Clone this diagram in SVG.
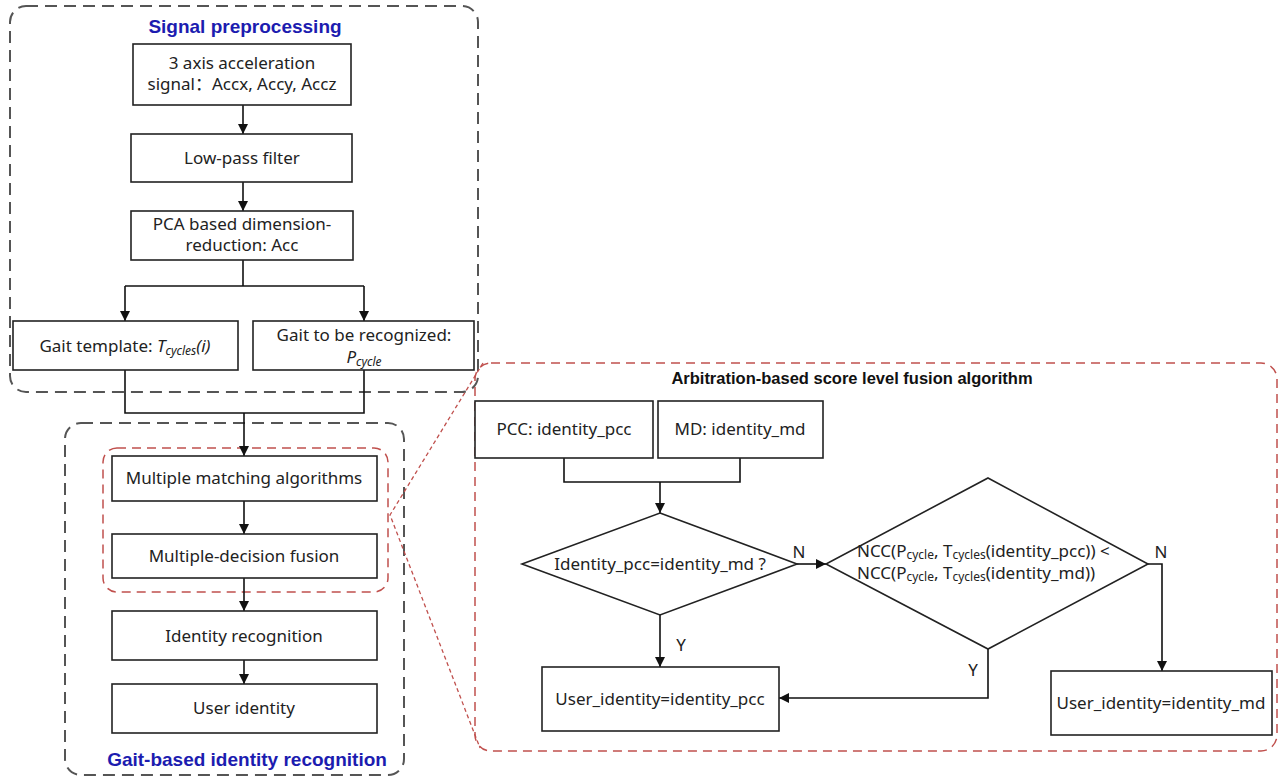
<svg xmlns="http://www.w3.org/2000/svg" width="1279" height="778" viewBox="0 0 1279 778">
<style>
.bg{fill:#fff}
.box{fill:#fff;stroke:#222;stroke-width:1.6}
.grp{fill:none;stroke:#555;stroke-width:2;stroke-dasharray:12 7}
.red{fill:none;stroke:#c0504d;stroke-width:1.5;stroke-dasharray:9 6}
.zoom{fill:none;stroke:#c0504d;stroke-width:1.3;stroke-dasharray:4 3}
.ln{fill:none;stroke:#111;stroke-width:1.6}
.t{font-family:"Noto Sans","Open Sans","Noto Sans CJK SC",sans-serif;font-size:17px;fill:#222;text-anchor:middle}
.ts{font-family:"Noto Sans","Open Sans",sans-serif;font-size:17px;fill:#222;text-anchor:start}
.ttl{font-family:"Liberation Sans",Arial,sans-serif;font-weight:bold;font-size:19px;fill:#1c1cb0;text-anchor:middle}
.ttl2{font-family:"Liberation Sans",Arial,sans-serif;font-weight:bold;font-size:16.5px;fill:#111;text-anchor:middle}
.sub{font-size:12px}
</style>
<defs>
<marker id="ar" viewBox="0 0 10 10" refX="10" refY="5" markerWidth="10" markerHeight="12" markerUnits="userSpaceOnUse" orient="auto">
<path d="M0,0 L10,5 L0,10 z" fill="#111"/>
</marker>
</defs>
<rect class="bg" x="0" y="0" width="1279" height="778"/>

<g id="group-signal">
<rect class="grp" x="10" y="6" width="468" height="386" rx="16"/>
<text class="ttl" x="245" y="33">Signal preprocessing</text>
</g>
<g id="group-gait">
<rect class="grp" x="65" y="423" width="339" height="352" rx="16"/>
<text class="ttl" x="247" y="766">Gait-based identity recognition</text>
</g>
<g id="group-fusion-highlight">
<rect class="red" x="103" y="448" width="285" height="144" rx="14"/>
</g>
<g id="group-arbitration">
<rect class="red" x="475" y="363" width="802" height="388" rx="16"/>
<text class="ttl2" x="852" y="384">Arbitration-based score level fusion algorithm</text>
</g>

<g id="connectors">
<line class="ln" x1="243" y1="105" x2="243" y2="134" marker-end="url(#ar)"/>
<line class="ln" x1="243" y1="182" x2="243" y2="211" marker-end="url(#ar)"/>
<polyline class="ln" points="243,260 243,286"/>
<polyline class="ln" points="125,286 364,286"/>
<line class="ln" x1="125" y1="286" x2="125" y2="321" marker-end="url(#ar)"/>
<line class="ln" x1="364" y1="286" x2="364" y2="321" marker-end="url(#ar)"/>
<polyline class="ln" points="125,370 125,413 364,413 364,370"/>
<line class="ln" x1="244" y1="413" x2="244" y2="456" marker-end="url(#ar)"/>
<line class="ln" x1="244" y1="501" x2="244" y2="534" marker-end="url(#ar)"/>
<line class="ln" x1="244" y1="578" x2="244" y2="611" marker-end="url(#ar)"/>
<line class="ln" x1="244" y1="660" x2="244" y2="684" marker-end="url(#ar)"/>
<polyline class="ln" points="564,458 564,482 740,482 740,458"/>
<line class="ln" x1="660" y1="482" x2="660" y2="513" marker-end="url(#ar)"/>
<line class="ln" x1="797" y1="564" x2="826" y2="564" marker-end="url(#ar)"/>
<line class="ln" x1="660" y1="615" x2="660" y2="667" marker-end="url(#ar)"/>
<polyline class="ln" points="988,649 988,698 779,698" marker-end="url(#ar)"/>
<polyline class="ln" points="1148,564 1162,564 1162,671" marker-end="url(#ar)"/>
<text class="t" x="799" y="558">N</text>
<text class="t" x="681" y="651">Y</text>
<text class="t" x="1161" y="558">N</text>
<text class="t" x="973" y="676">Y</text>
<polyline class="zoom" points="483,363 390,515 480,748"/>
</g>

<g id="n-acc">
<rect class="box" x="133" y="44" width="218" height="61"/>
<text class="t" x="242" y="69">3 axis acceleration</text>
<text class="t" x="242" y="90">signal：Accx, Accy, Accz</text>
</g>
<g id="n-lowpass">
<rect class="box" x="131" y="134" width="221" height="48"/>
<text class="t" x="242" y="164">Low-pass filter</text>
</g>
<g id="n-pca">
<rect class="box" x="131" y="211" width="222" height="49"/>
<text class="t" x="242" y="230">PCA based dimension-</text>
<text class="t" x="242" y="251">reduction: Acc</text>
</g>
<g id="n-template">
<rect class="box" x="13" y="321" width="225" height="49"/>
<text class="t" x="125" y="352">Gait template: <tspan font-style="italic">T<tspan class="sub" dy="3">cycles</tspan><tspan dy="-3">(i)</tspan></tspan></text>
</g>
<g id="n-recognized">
<rect class="box" x="253" y="321" width="221" height="49"/>
<text class="t" x="364" y="341">Gait to be recognized:</text>
<text class="t" x="364" y="363" font-style="italic">P<tspan class="sub" dy="3">cycle</tspan></text>
</g>
<g id="n-matching">
<rect class="box" x="112" y="456" width="265" height="45"/>
<text class="t" x="244" y="484">Multiple matching algorithms</text>
</g>
<g id="n-decision">
<rect class="box" x="112" y="534" width="265" height="44"/>
<text class="t" x="244" y="562">Multiple-decision fusion</text>
</g>
<g id="n-identity">
<rect class="box" x="112" y="611" width="265" height="49"/>
<text class="t" x="244" y="642">Identity recognition</text>
</g>
<g id="n-user">
<rect class="box" x="112" y="684" width="265" height="49"/>
<text class="t" x="244" y="714">User identity</text>
</g>
<g id="n-pcc">
<rect class="box" x="475" y="401" width="178" height="57"/>
<text class="t" x="564" y="435">PCC: identity_pcc</text>
</g>
<g id="n-md">
<rect class="box" x="658" y="401" width="165" height="57"/>
<text class="t" x="740" y="435">MD: identity_md</text>
</g>
<g id="n-decision1">
<polygon class="box" points="660,513 797,564 660,615 522,564"/>
<text class="t" x="660" y="570">Identity_pcc=identity_md ?</text>
</g>
<g id="n-decision2">
<polygon class="box" points="988,478 1148,564 988,649 826,564"/>
<text class="ts" x="857" y="557">NCC(P<tspan class="sub" dy="2">cycle</tspan><tspan dy="-2">, T</tspan><tspan class="sub" dy="2">cycles</tspan><tspan dy="-2">(identity_pcc)) &lt;</tspan></text>
<text class="ts" x="857" y="579">NCC(P<tspan class="sub" dy="2">cycle</tspan><tspan dy="-2">, T</tspan><tspan class="sub" dy="2">cycles</tspan><tspan dy="-2">(identity_md))</tspan></text>
</g>
<g id="n-out-pcc">
<rect class="box" x="542" y="667" width="237" height="64"/>
<text class="t" x="660" y="705">User_identity=identity_pcc</text>
</g>
<g id="n-out-md">
<rect class="box" x="1051" y="671" width="221" height="64"/>
<text class="t" x="1161" y="709">User_identity=identity_md</text>
</g>
</svg>
